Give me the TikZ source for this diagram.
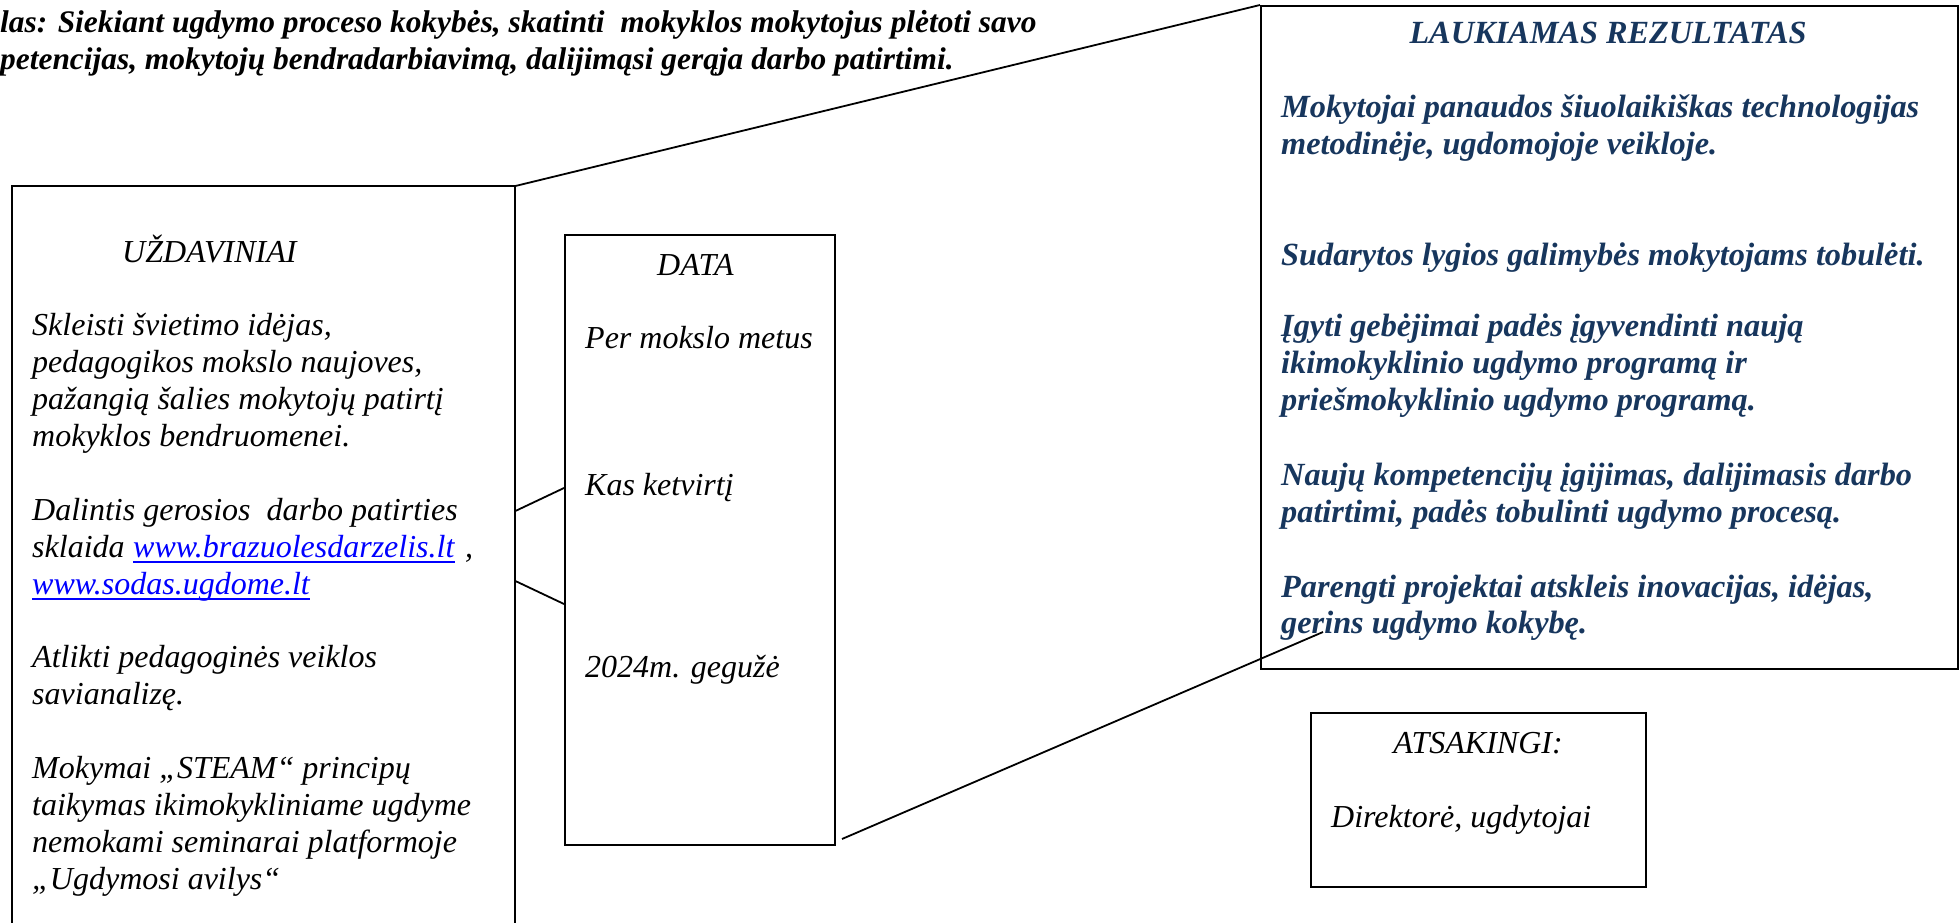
\documentclass[tikz,border=0pt]{standalone}
\usepackage{fontspec}
\setmainfont{Liberation Serif}
\definecolor{navy}{HTML}{17365D}
\definecolor{linkblue}{HTML}{0000FF}
\tikzset{
  boxed/.style={draw, line width=2pt, rectangle, inner sep=0pt, anchor=north west},
  body/.style={anchor=base west, inner sep=0pt, font=\fontsize{32}{37}\selectfont\itshape},
  bluebody/.style={anchor=base west, inner sep=0pt, text=navy, font=\fontsize{32.3}{37}\selectfont\bfseries\itshape},
  titletext/.style={anchor=base west, inner sep=0pt, font=\fontsize{31.4}{36}\selectfont\bfseries\itshape},
  linktext/.style={body, text=linkblue},
  conn/.style={line width=1.8pt},
  uline/.style={linkblue, line width=1.6pt}
}
\begin{document}
\begin{tikzpicture}[x=1pt,y=-1pt]
\useasboundingbox (0,0) rectangle (1960,923);
% title
\node[titletext] (title1) at (0,33) {las: Siekiant ugdymo proceso kokybės, skatinti\ \ mokyklos mokytojus plėtoti savo};
\node[titletext] (title2) at (0,70) {petencijas, mokytojų bendradarbiavimą, dalijimąsi gerąja darbo patirtimi.};
% boxes
\node[rectangle, inner sep=0pt, minimum width=503pt, minimum height=745pt, anchor=north west] (tasks) at (12,186) {};
\draw[line width=2pt] (tasks.south west) -- (tasks.north west) -- (tasks.north east) -- (tasks.south east);
\node[boxed, minimum width=270pt, minimum height=610pt] (data) at (564,234) {};
\node[boxed, minimum width=697pt, minimum height=663pt] (result) at (1260,5) {};
\node[boxed, minimum width=335pt, minimum height=174pt] (resp) at (1310,712) {};
% connectors
\draw[conn] (tasks.north east) -- (result.north west);
\draw[conn] ([yshift=-325pt]tasks.north east) -- ([yshift=-254pt]data.north west);
\draw[conn] ([yshift=-395pt]tasks.north east) -- ([yshift=-370pt]data.north west);
\coordinate (c4a) at (842,839);
\coordinate (c4b) at (1323,632);
\draw[conn] (c4a) -- (c4b);
% tasks text
\node[body] (th) at (122,262) {UŽDAVINIAI};
\node[body] (t1) at (32,335) {Skleisti švietimo idėjas,};
\node[body] (t2) at (32,372) {pedagogikos mokslo naujoves,};
\node[body] (t3) at (32,409) {pažangią šalies mokytojų patirtį};
\node[body] (t4) at (32,446) {mokyklos bendruomenei.};
\node[body] (t5) at (32,520) {Dalintis gerosios\ \ darbo patirties};
\node[body] (t6) at (32,557) {sklaida};
\node[linktext] (l1) at (133,557) {www.brazuolesdarzelis.lt};
\node[body] (t6b) at (465,557) {,};
\draw[uline] ([yshift=-5pt]l1.base west) -- ([yshift=-5pt]l1.base east);
\node[linktext] (l2) at (32,594) {www.sodas.ugdome.lt};
\draw[uline] ([yshift=-5pt]l2.base west) -- ([yshift=-5pt]l2.base east);
\node[body] (t7) at (32,667) {Atlikti pedagoginės veiklos};
\node[body] (t8) at (32,704) {savianalizę.};
\node[body] (t9) at (32,778) {Mokymai „STEAM“ principų};
\node[body] (t10) at (32,815) {taikymas ikimokykliniame ugdyme};
\node[body] (t11) at (32,852) {nemokami seminarai platformoje};
\node[body] (t12) at (32,889) {„Ugdymosi avilys“};
% data text
\node[body] (dh) at (657,275) {DATA};
\node[body] (d1) at (585,348) {Per mokslo metus};
\node[body] (d2) at (585,495) {Kas ketvirtį};
\node[body] (d3) at (585,677) {2024m. gegužė};
% result text
\node[bluebody, anchor=base] (rh) at (1608,44) {LAUKIAMAS REZULTATAS};
\node[bluebody] (r1) at (1281,118) {Mokytojai panaudos šiuolaikiškas technologijas};
\node[bluebody] (r2) at (1281,155) {metodinėje, ugdomojoje veikloje.};
\node[bluebody] (r3) at (1281,265) {Sudarytos lygios galimybės mokytojams tobulėti.};
\node[bluebody] (r4) at (1281,336) {Įgyti gebėjimai padės įgyvendinti naują};
\node[bluebody] (r5) at (1281,373) {ikimokyklinio ugdymo programą ir};
\node[bluebody] (r6) at (1281,410) {priešmokyklinio ugdymo programą.};
\node[bluebody] (r7) at (1281,485) {Naujų kompetencijų įgijimas, dalijimasis darbo};
\node[bluebody] (r8) at (1281,522) {patirtimi, padės tobulinti ugdymo procesą.};
\node[bluebody] (r9) at (1281,597) {Parengti projektai atskleis inovacijas, idėjas,};
\node[bluebody] (r10) at (1281,633) {gerins ugdymo kokybę.};
% responsible text
\node[body, anchor=base] (sh) at (1478,753) {ATSAKINGI:};
\node[body] (s1) at (1331,827) {Direktorė, ugdytojai};
\end{tikzpicture}
\end{document}
